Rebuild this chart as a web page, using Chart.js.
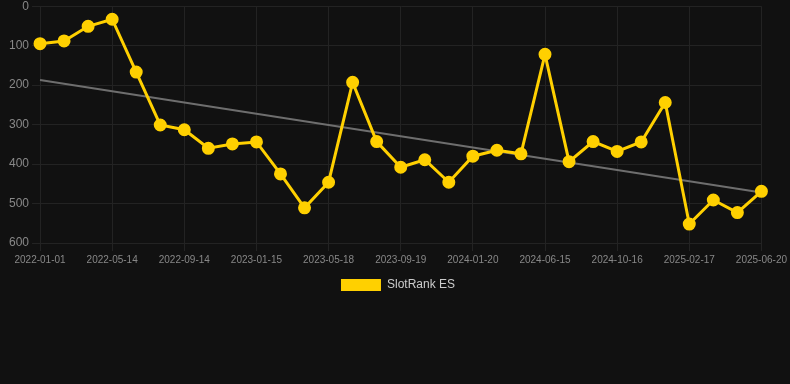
<!DOCTYPE html>
<html>
<head>
<meta charset="utf-8">
<script src="https://cdn.jsdelivr.net/npm/chart.js@4/dist/chart.umd.min.js"></script>
<style>
  html, body { margin: 0; padding: 0; background: #111111; overflow: hidden; }
  #wrap { width: 790px; height: 305px; position: relative; margin-top: -4px; }
</style>
</head>
<body>
<div id="wrap"><canvas id="rankChart"></canvas></div>
<script>
// dates (x axis)
const dates = [
  '2022-01-01', '2022-02-14', '2022-03-30', '2022-05-14', '2022-06-24', '2022-08-04',
  '2022-09-14', '2022-10-25', '2022-12-05', '2023-01-15', '2023-02-25', '2023-04-07',
  '2023-05-18', '2023-06-28', '2023-08-09', '2023-09-19', '2023-10-30', '2023-12-10',
  '2024-01-20', '2024-03-08', '2024-04-27', '2024-06-15', '2024-07-26', '2024-09-05',
  '2024-10-16', '2024-11-26', '2025-01-06', '2025-02-17', '2025-03-30', '2025-05-10',
  '2025-06-20'
];

// SlotRank ES rank values
const rankES = [
  95, 88, 51, 33, 167, 301, 313, 360, 349, 344,
  425, 511, 446, 193, 343, 408, 389, 446, 380, 365,
  374, 122, 394, 343, 368, 344, 244, 552, 491, 523,
  469
];

// trend line end values
const trendStart = 187;
const trendEnd = 472;

const yTicks = [0, 100, 200, 300, 400, 500, 600];

const ctx = document.getElementById('rankChart');
new Chart(ctx, {
  type: 'line',
  data: {
    labels: dates,
    datasets: [
      {
        label: 'SlotRank ES',
        data: rankES,
        borderColor: '#FFD000',
        backgroundColor: '#FFD000',
        borderWidth: 3,
        pointRadius: 5,
        pointHoverRadius: 6,
        pointBackgroundColor: '#FFD000',
        pointBorderColor: '#FFD000',
        tension: 0,
      },
      {
        label: 'trend',
        data: [
          { x: dates[0], y: trendStart },
          { x: dates[dates.length - 1], y: trendEnd },
        ],
        borderColor: '#6e6e6e',
        borderWidth: 2,
        pointRadius: 0,
        tension: 0,
      },
    ],
  },
  options: {
    responsive: true,
    maintainAspectRatio: false,
    animation: false,
    layout: { padding: { left: 6 } },
    plugins: {
      legend: {
        position: 'bottom',
        labels: {
          color: '#cccccc',
          boxWidth: 40,
          boxHeight: 12,
          font: { family: 'Arial, "Liberation Sans", sans-serif', size: 12 },
          filter: (item) => item.text !== 'trend',
          generateLabels: (chart) =>
            Chart.defaults.plugins.legend.labels
              .generateLabels(chart)
              .map((l) => ({ ...l, lineWidth: 0 })),
        },
      },
      tooltip: { enabled: false },
    },
    scales: {
      x: {
        offset: false,
        grid: { color: '#232323', tickColor: '#232323' },
        border: { color: '#232323' },
        ticks: {
          color: '#888888',
          font: { family: 'Arial, "Liberation Sans", sans-serif', size: 10 },
          autoSkip: true,
          maxTicksLimit: 11,
          maxRotation: 0,
        },
      },
      y: {
        reverse: true,
        min: 0,
        max: 600,
        afterBuildTicks: (axis) => {
          axis.ticks = yTicks.map((v) => ({ value: v }));
        },
        grid: { color: '#232323', tickColor: '#232323' },
        border: { color: '#232323' },
        ticks: {
          color: '#888888',
          font: { family: 'Arial, "Liberation Sans", sans-serif', size: 12 },
        },
      },
    },
  },
});
</script>
</body>
</html>
